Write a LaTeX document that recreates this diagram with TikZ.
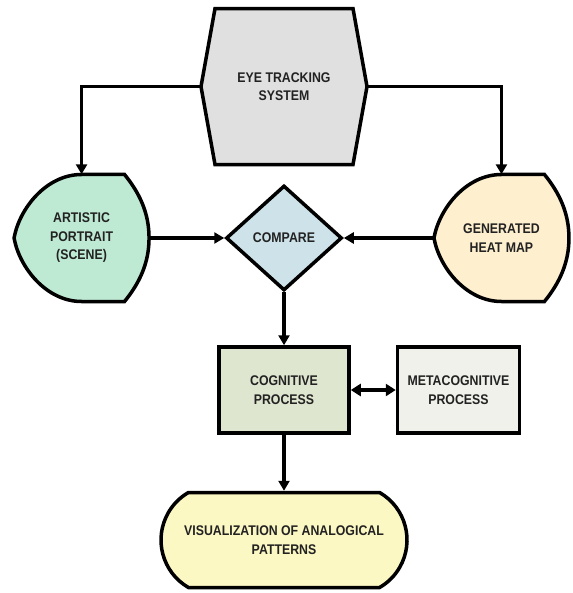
\documentclass[tikz,border=0pt]{standalone}
\usepackage{fontspec}
\setmainfont{Liberation Sans}[FakeStretch=0.88]
\usepackage{xcolor}
\usetikzlibrary{shapes.geometric, shapes.misc, arrows.meta, positioning, backgrounds}
\definecolor{EyeGray}{RGB}{224, 224, 224}
\definecolor{ArtGreen}{RGB}{190, 234, 211}
\definecolor{HeatCream}{RGB}{254, 240, 207}
\definecolor{CmpBlue}{RGB}{205, 227, 233}
\definecolor{CogGreen}{RGB}{223, 230, 208}
\definecolor{MetaGray}{RGB}{239, 241, 234}
\definecolor{VisYellow}{RGB}{252, 248, 196}
\definecolor{TextDark}{RGB}{34, 34, 34}

\begin{document}
\begin{tikzpicture}[
    x=1pt, y=1pt,
    txt/.style={align=center, inner sep=0pt, text=TextDark, font=\fontsize{14}{18.5}\selectfont\bfseries},
    outline/.style={draw=black, line width=3.5pt},
    procbox/.style={txt, outline, rectangle, minimum width=130pt, minimum height=86pt},
    arrow/.style={-{Triangle[length=10pt, width=11pt]}, line width=3.5pt},
    dblarrow/.style={{Triangle[length=10pt, width=12pt]}-{Triangle[length=10pt, width=12pt]}, line width=3.5pt},
    hexa/.pic={\path[pic actions] (-83,0) -- (-69,78) -- (69,78) -- (83,0) -- (69,-78) -- (-69,-78) -- cycle;},
    disp/.pic={\path[pic actions] (-67.5,0) .. controls (-62,30) and (-35,63.5) .. (0,63.5) -- (43,63.5)
        .. controls (58,45) and (67.5,25) .. (67.5,0) .. controls (67.5,-25) and (58,-45) .. (43,-63.5)
        -- (0,-63.5) .. controls (-35,-63.5) and (-62,-30) .. cycle;}
]
\useasboundingbox (0,0) rectangle (572,-593);

\node (cmp) [txt, outline, diamond, aspect=1.1, fill=CmpBlue, minimum width=116pt, minimum height=105pt] at (284,-238) {COMPARE};
\node (eye) [txt, minimum width=166pt, minimum height=156pt, above=19pt of cmp] {EYE TRACKING\\SYSTEM};
\node (art) [txt, minimum width=135pt, minimum height=127pt, left=75pt of cmp] {ARTISTIC\\PORTRAIT\\(SCENE)};
\node (heat) [txt, minimum width=135pt, minimum height=127pt, right=90pt of cmp] {GENERATED\\HEAT MAP};
\node (cog) [procbox, fill=CogGreen, below=53pt of cmp] {COGNITIVE\\PROCESS};
\node (meta) [procbox, fill=MetaGray, minimum width=122pt, right=45pt of cog] {METACOGNITIVE\\PROCESS};
\node (vis) [txt, outline, rounded rectangle, rounded rectangle arc length=120, fill=VisYellow, minimum width=246pt, minimum height=95pt, below=56pt of cog] {VISUALIZATION OF ANALOGICAL\\PATTERNS};

% outlines behind the text
\begin{scope}[on background layer]
\pic[outline, fill=EyeGray] at (eye) {hexa};
\pic[outline, fill=ArtGreen] at (art) {disp};
\pic[outline, fill=HeatCream] at (heat) {disp};
\end{scope}

\draw [arrow] (eye.west) -| (art.north);
\draw [arrow] (eye.east) -| (heat.north);
\draw [arrow] (art.east) -- (cmp.west);
\draw [arrow] (heat.west) -- (cmp.east);
\draw [arrow] (cmp.south) -- (cog.north);
\draw [dblarrow] (cog.east) -- (meta.west);
\draw [arrow] (cog.south) -- (vis.north);

\end{tikzpicture}
\end{document}
